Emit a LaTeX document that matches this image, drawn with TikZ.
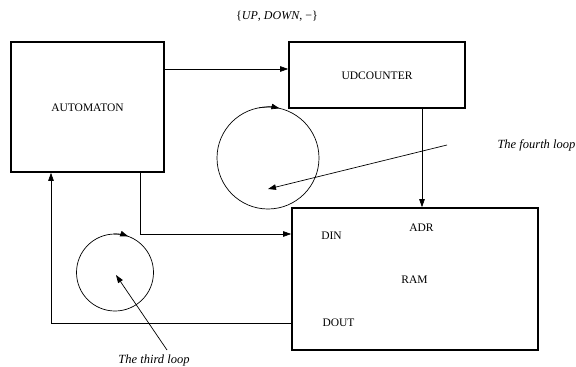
\documentclass[tikz,border=0pt]{standalone}
\usepackage{fontspec}
\setmainfont{Liberation Serif}
\usetikzlibrary{arrows.meta,calc}
\begin{document}
\begin{tikzpicture}[x=1pt,y=-1pt,
  blockbox/.style={draw,line width=1.6pt,inner sep=0pt},
  conn/.style={line width=0.7pt,-{Triangle[length=8pt,width=5.5pt]}},
  loopc/.style={draw,circle,line width=0.7pt,inner sep=0pt},
  lbl/.style={font=\fontsize{11.5}{13}\selectfont},
  ilbl/.style={font=\fontsize{12.5}{14}\selectfont\itshape}]
\useasboundingbox (0,0) rectangle (576,367);
% boxes
\node[blockbox,minimum width=153pt,minimum height=130pt] (auto) at (87.5,107) {};
\node[blockbox,minimum width=176pt,minimum height=66pt] (udc) at (377,75) {};
\node[blockbox,minimum width=246pt,minimum height=142pt] (ram) at (415,279) {};
% texts
\node[lbl] (tauto) at (87.5,108) {AUTOMATON};
\node[lbl] (tudc) at (377,76) {UDCOUNTER};
\node[lbl] (tdin) at (331.5,236) {DIN};
\node[lbl] (tadr) at (421.5,228) {ADR};
\node[lbl] (tram) at (414.5,280) {RAM};
\node[lbl] (tdout) at (338.5,323) {DOUT};
\node[font=\fontsize{12}{14}\selectfont] (title) at (277,16) {\{\textit{UP}, \textit{DOWN}, −\}};
\node[ilbl,anchor=west] (t4) at (494,145) {The fourth loop};
\node[ilbl] (t3) at (154,360) {The third loop};
% connectors
\draw[conn] (auto.east |- 0,69) -- (udc.west |- 0,69);
\draw[conn] (udc.south -| 422,0) -- (ram.north -| 422,0);
\draw[conn] (auto.south -| 140,0) |- (ram.west |- 0,234);
\draw[conn] (ram.west |- 0,323) -| (auto.south -| 51,0);
% loops
\node[loopc,minimum size=102pt] (c4) at (268,158) {};
\node[loopc,minimum size=77pt] (c3) at (115,272.5) {};
\draw[conn] (c4.center)++(100:51pt) arc[start angle=100,end angle=77,radius=51pt];
\draw[conn] (c3.center)++(92:38.5pt) arc[start angle=92,end angle=70,radius=38.5pt];
\coordinate (s4) at (447,145);
\coordinate (s3) at (167,350);
\draw[conn] (s4) -- (268,189);
\draw[conn] (s3) -- (116,275);
\end{tikzpicture}
\end{document}
